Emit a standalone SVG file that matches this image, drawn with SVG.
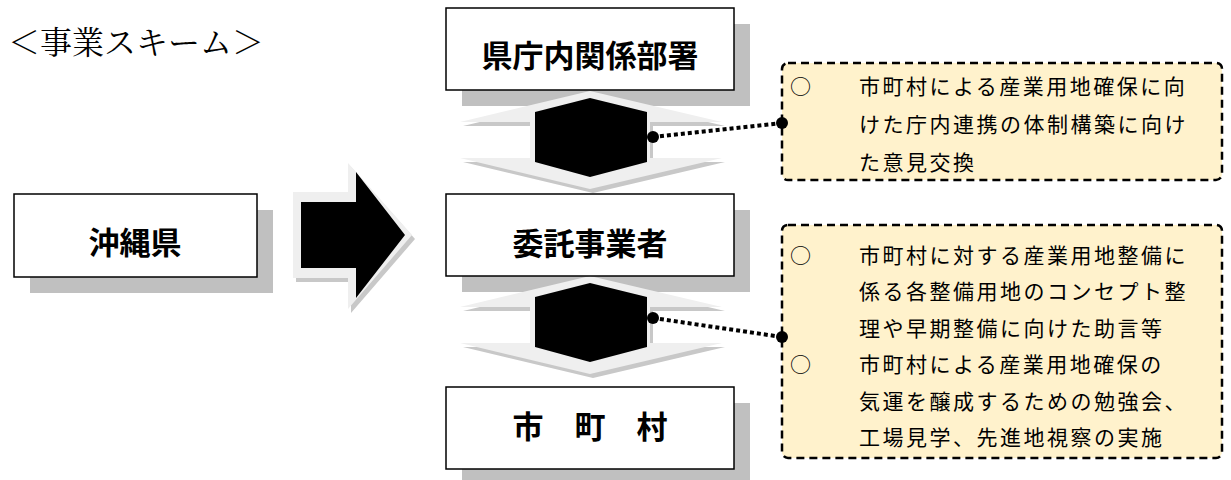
<svg xmlns="http://www.w3.org/2000/svg" width="1231" height="480" viewBox="0 0 1231 480">
  <defs>
    <style>
      .box { fill: #ffffff; stroke: #000000; stroke-width: 1.5; }
      .shadow { fill: #c0c0c0; }
      .label { font-family: "Noto Sans CJK JP", sans-serif; font-weight: bold; font-size: 31px; text-anchor: middle; fill: #000000; }
      .title { font-family: "Noto Serif CJK JP", "Noto Sans CJK JP", serif; font-size: 32px; fill: #000000; }
      .note { fill: #fff2cc; stroke: #000000; stroke-width: 2.5; stroke-dasharray: 8 5; }
      .nt { font-family: "Noto Sans CJK JP", sans-serif; font-size: 21px; letter-spacing: 2.5px; fill: #000000; }
      .dots { fill: none; stroke: #000000; stroke-width: 4; stroke-dasharray: 4 3; }
      .halo { fill: #efefef; }
      .ashadow { fill: #c8c8c8; }
      .solid { fill: #000000; }
    </style>
    <!-- two-way vertical arrow: pale outline and dark core -->
    <polygon id="udHalo" points="590,91 722,122 650,122 650,158 722,158 590,189 460,158 530,158 530,122 460,122"/>
    <polygon id="udCore" points="590,98 647,112 647,162 590,177 535,162 535,112"/>
    <!-- block arrow pointing right -->
    <polygon id="rHalo" points="293,192 348,192 348,163 412,235 348,309 348,278 293,278"/>
  </defs>

  <text class="title" x="8" y="54">＜事業スキーム＞</text>

  <!-- drop shadows of the boxes -->
  <rect class="shadow" x="30" y="210" width="243" height="83"/>
  <rect class="shadow" x="462" y="24" width="288" height="82"/>
  <rect class="shadow" x="462" y="210" width="288" height="82"/>
  <rect class="shadow" x="462" y="403" width="288" height="82"/>

  <!-- arrows -->
  <g id="arrow-right">
    <use href="#rHalo" class="ashadow" transform="translate(3,4)"/>
    <use href="#rHalo" class="halo"/>
    <polygon class="solid" points="301,202 356,202 356,172 405,235 356,298 356,268 301,268"/>
  </g>
  <g id="arrow-updown-1">
    <use href="#udHalo" class="ashadow" transform="translate(3,4)"/>
    <use href="#udHalo" class="halo"/>
    <use href="#udCore" class="solid"/>
  </g>
  <g id="arrow-updown-2" transform="translate(0,185)">
    <use href="#udHalo" class="ashadow" transform="translate(3,4)"/>
    <use href="#udHalo" class="halo"/>
    <use href="#udCore" class="solid"/>
  </g>

  <!-- nodes -->
  <g id="okinawa">
    <rect class="box" x="14" y="194" width="243" height="83"/>
    <text class="label" x="135" y="254">沖縄県</text>
  </g>
  <g id="kencho">
    <rect class="box" x="446" y="8" width="288" height="82"/>
    <text class="label" x="590" y="67">県庁内関係部署</text>
  </g>
  <g id="itaku">
    <rect class="box" x="446" y="194" width="288" height="82"/>
    <text class="label" x="590" y="255">委託事業者</text>
  </g>
  <g id="shichoson">
    <rect class="box" x="446" y="387" width="288" height="82"/>
    <text class="label" x="590" y="438">市　町　村</text>
  </g>

  <g id="note-1">
    <rect class="note" x="782" y="63" width="440" height="117" rx="6"/>
    <text class="nt" x="790" y="94">○</text>
    <text class="nt" x="859" y="94">市町村による産業用地確保に向</text>
    <text class="nt" x="859" y="132">けた庁内連携の体制構築に向け</text>
    <text class="nt" x="859" y="170">た意見交換</text>
  </g>
  <g id="note-2">
    <rect class="note" x="782" y="225" width="440" height="233" rx="6"/>
    <text class="nt" x="790" y="263">○</text>
    <text class="nt" x="859" y="263">市町村に対する産業用地整備に</text>
    <text class="nt" x="859" y="299">係る各整備用地のコンセプト整</text>
    <text class="nt" x="859" y="336">理や早期整備に向けた助言等</text>
    <text class="nt" x="790" y="372">○</text>
    <text class="nt" x="859" y="372">市町村による産業用地確保の</text>
    <text class="nt" x="859" y="409">気運を醸成するための勉強会、</text>
    <text class="nt" x="859" y="445">工場見学、先進地視察の実施</text>
  </g>

  <!-- connectors -->
  <g id="connectors">
    <line class="dots" x1="653" y1="137" x2="782" y2="123"/>
    <circle class="solid" cx="653" cy="137" r="6"/>
    <circle class="solid" cx="782" cy="123" r="6"/>
    <line class="dots" x1="653" y1="318" x2="782" y2="337"/>
    <circle class="solid" cx="653" cy="318" r="6"/>
    <circle class="solid" cx="782" cy="337" r="6"/>
  </g>
</svg>
